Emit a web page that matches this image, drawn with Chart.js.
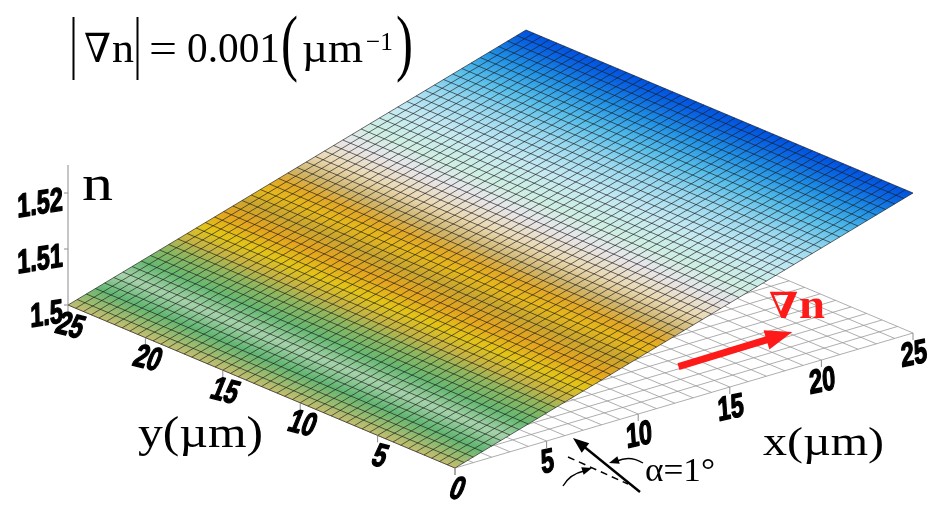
<!DOCTYPE html>
<html>
<head>
<meta charset="utf-8">
<script src="https://cdn.jsdelivr.net/npm/chart.js@4.4.0/dist/chart.umd.min.js"></script>
<style>
  html, body { margin: 0; padding: 0; background: #fff; }
  #wrap { position: relative; width: 932px; height: 510px; }
</style>
</head>
<body>
<div id="wrap"><canvas id="surf"></canvas></div>
<script>
// axis ticks
const xTicks = [0, 5, 10, 15, 20, 25];
const yTicks = [0, 5, 10, 15, 20, 25];
const nTicks = [1.5, 1.51, 1.52];

// refractive index read along x (surface is flat along y)
const profileX = [0, 5, 10, 15, 20, 25];
const profileN = [1.500, 1.505, 1.510, 1.515, 1.520, 1.525];

// gradient arrow drawn on the base plane (x, y in um)
const arrowFrom = [14.9, 3.2];
const arrowTo = [21.2, 3.3];

// shading of the surface, keyed by x position
const colorStops = [
  [0, '#c4bd6e'], [0.8, '#93bb70'], [1.6, '#62b672'], [2.8, '#a6d2aa'],
  [4.0, '#66b872'], [5.2, '#8cb760'], [6.2, '#c6b444'], [7.2, '#e3c416'],
  [8.4, '#e4a41e'], [9.6, '#caa630'], [10.6, '#e6b81a'], [11.4, '#e2a826'],
  [12.4, '#cfb56e'], [13.6, '#ead9b4'], [15.0, '#e8e6ea'], [16.2, '#cfefe4'],
  [18.0, '#c4e9f3'], [19.8, '#98d8ef'], [21.4, '#56bde9'], [23.0, '#1f8fe4'],
  [24.2, '#0a66e2'], [25, '#0052e0']
];

// oblique view: screen units per um of x, y and per unit of n
const view = { ox: 455, oy: 468, exx: 18.32, exy: -5.4, eyx: -15.48, eyy: -6.52, ez: -5600, nBase: 1.5 };
const meshStep = 0.5;
const baseStep = 1;
const xMax = profileX[profileX.length - 1];
const yMax = yTicks[yTicks.length - 1];

function proj(x, y, n) {
  return {
    x: view.ox + x * view.exx + y * view.eyx,
    y: view.oy + x * view.exy + y * view.eyy + (n - view.nBase) * view.ez
  };
}

function nAt(x) {
  for (let i = 0; i < profileX.length - 1; i++) {
    if (x <= profileX[i + 1]) {
      const t = (x - profileX[i]) / (profileX[i + 1] - profileX[i]);
      return profileN[i] + t * (profileN[i + 1] - profileN[i]);
    }
  }
  return profileN[profileN.length - 1];
}

function lineSet(points, color, width, order) {
  return {
    data: points, borderColor: color, borderWidth: width, pointRadius: 0,
    fill: false, tension: 0, order: order
  };
}

const datasets = [];

// base plane grid at n = 1.5
for (let x = 0; x <= xMax + 1e-9; x += baseStep) {
  datasets.push(lineSet([proj(x, 0, view.nBase), proj(x, yMax, view.nBase)], '#999999', 0.8, 10));
}
for (let y = 0; y <= yMax + 1e-9; y += baseStep) {
  datasets.push(lineSet([proj(0, y, view.nBase), proj(xMax, y, view.nBase)], '#999999', 0.8, 10));
}

// surface outline, filled with the shading
const outline = [];
profileX.forEach((x, i) => outline.push(proj(x, 0, profileN[i])));
for (let i = profileX.length - 1; i >= 0; i--) outline.push(proj(profileX[i], yMax, profileN[i]));
outline.push(proj(profileX[0], 0, profileN[0]));

datasets.push({
  data: outline, borderWidth: 0, borderColor: 'rgba(0,0,0,0)', pointRadius: 0, tension: 0,
  fill: 'shape', order: 5,
  backgroundColor: (c) => {
    const chart = c.chart;
    const sx = chart.scales.x, sy = chart.scales.y;
    if (!sx || !sy || !chart.chartArea) return colorStops[0][1];
    const px = p => ({ x: sx.getPixelForValue(p.x), y: sy.getPixelForValue(p.y) });
    const A = px(proj(0, 0, nAt(0)));
    const D = px(proj(0, yMax, nAt(0)));
    const L = Math.hypot(D.x - A.x, D.y - A.y);
    const nx = -(D.y - A.y) / L, ny = (D.x - A.x) / L;
    const along = q => (q.x - A.x) * nx + (q.y - A.y) * ny;
    const tB = along(px(proj(xMax, 0, nAt(xMax))));
    const g = chart.ctx.createLinearGradient(A.x, A.y, A.x + nx * tB, A.y + ny * tB);
    colorStops.forEach(([xs, col]) => {
      const f = along(px(proj(xs, 0, nAt(xs)))) / tB;
      g.addColorStop(Math.min(1, Math.max(0, f)), col);
    });
    return g;
  }
});

// surface mesh
const meshColor = 'rgba(25,25,25,0.8)';
for (let x = 0; x <= xMax + 1e-9; x += meshStep) {
  datasets.push(lineSet([proj(x, 0, nAt(x)), proj(x, yMax, nAt(x))], meshColor, 0.8, 2));
}
for (let y = 0; y <= yMax + 1e-9; y += meshStep) {
  const pts = profileX.map((x, i) => proj(x, y, profileN[i]));
  datasets.push(lineSet(pts, meshColor, 0.8, 2));
}

// vertical n axis at the back-left corner
datasets.push(lineSet([proj(0, yMax, view.nBase), proj(0, yMax, 1.525)], '#8c8c8c', 1, 1));

// text squeezed horizontally so it fits a given width
function fitText(ctx, str, x, base, width, font, color) {
  ctx.save();
  ctx.font = font;
  ctx.fillStyle = color;
  ctx.textBaseline = 'alphabetic';
  ctx.textAlign = 'left';
  const w = ctx.measureText(str).width;
  const k = width ? width / w : 1;
  ctx.translate(x, base);
  ctx.scale(k, 1);
  ctx.fillText(str, 0, 0);
  ctx.restore();
}

// heavy narrow slanted tick label
function tickText(ctx, str, x, y, rot, align) {
  ctx.save();
  ctx.translate(x, y);
  ctx.rotate(rot * Math.PI / 180);
  ctx.transform(0.72, 0, -0.14, 1, 0, 0);
  ctx.font = 'bold 33px "Liberation Sans", Arial, sans-serif';
  ctx.fillStyle = '#000';
  ctx.strokeStyle = '#000';
  ctx.lineWidth = 1.4;
  ctx.lineJoin = 'round';
  ctx.textAlign = align || 'center';
  ctx.textBaseline = 'middle';
  ctx.strokeText(str, 0, 0);
  ctx.fillText(str, 0, 0);
  ctx.restore();
}

function arrowHead(ctx, tip, from, len, half, color) {
  const a = Math.atan2(tip.y - from.y, tip.x - from.x);
  ctx.save();
  ctx.fillStyle = color;
  ctx.beginPath();
  ctx.moveTo(tip.x, tip.y);
  ctx.lineTo(tip.x - len * Math.cos(a) + half * Math.sin(a), tip.y - len * Math.sin(a) - half * Math.cos(a));
  ctx.lineTo(tip.x - len * Math.cos(a) - half * Math.sin(a), tip.y - len * Math.sin(a) + half * Math.cos(a));
  ctx.closePath();
  ctx.fill();
  ctx.restore();
}

const decor = {
  id: 'decor',
  afterDatasetsDraw(chart) {
    const ctx = chart.ctx;
    const sx = chart.scales.x, sy = chart.scales.y;
    const px = p => ({ x: sx.getPixelForValue(p.x), y: sy.getPixelForValue(p.y) });

    // tick marks
    ctx.save();
    ctx.strokeStyle = '#8c8c8c';
    ctx.lineWidth = 1;
    yTicks.forEach(v => {
      const p = px(proj(0, v, view.nBase));
      ctx.beginPath(); ctx.moveTo(p.x, p.y); ctx.lineTo(p.x, p.y + 7); ctx.stroke();
    });
    xTicks.forEach(v => {
      const p = px(proj(v, 0, view.nBase));
      ctx.beginPath(); ctx.moveTo(p.x, p.y); ctx.lineTo(p.x, p.y + 7); ctx.stroke();
    });
    nTicks.forEach(v => {
      const p = px(proj(0, yMax, v));
      ctx.beginPath(); ctx.moveTo(p.x, p.y); ctx.lineTo(p.x - 4, p.y); ctx.stroke();
    });
    ctx.restore();

    // tick labels
    yTicks.forEach(v => {
      const p = px(proj(0, v, view.nBase));
      tickText(ctx, String(v), p.x + 2, p.y + 22, 14);
    });
    xTicks.forEach(v => {
      if (v === 0) return;
      const p = px(proj(v, 0, view.nBase));
      tickText(ctx, String(v), p.x + 1, p.y + 22, -12);
    });
    nTicks.forEach(v => {
      const p = px(proj(0, yMax, v));
      tickText(ctx, String(v), p.x - 5, p.y + 8, -9, 'right');
    });

    // axis titles
    const serif = '"Liberation Serif", "DejaVu Serif", serif';
    fitText(ctx, 'n', 82, 200, 31, '50px ' + serif, '#000');
    fitText(ctx, 'y(\u00b5m)', 138, 447, 125, '44px ' + serif, '#000');
    fitText(ctx, 'x(\u00b5m)', 763, 455, 121, '41px ' + serif, '#000');

    // headline |grad n| = 0.001 (um^-1)
    ctx.save();
    ctx.strokeStyle = '#000';
    ctx.lineWidth = 2;
    [73.5, 137.5].forEach(bx => {
      ctx.beginPath(); ctx.moveTo(bx, 17); ctx.lineTo(bx, 80); ctx.stroke();
    });
    ctx.restore();
    fitText(ctx, '\u2207', 84, 62, 27, '40px "DejaVu Serif", serif', '#000');
    fitText(ctx, 'n', 112, 62, 22, '43px ' + serif, '#000');
    fitText(ctx, '=', 149, 62, 28, '43px ' + serif, '#000');
    fitText(ctx, '0.001', 187, 62, 93, '43px ' + serif, '#000');
    fitText(ctx, '(', 281, 67, 17, '74px ' + serif, '#000');
    fitText(ctx, '\u00b5m', 302, 62, 61, '43px ' + serif, '#000');
    fitText(ctx, '\u22121', 366, 50, 27, '26px ' + serif, '#000');
    fitText(ctx, ')', 396, 67, 17, '74px ' + serif, '#000');

    // gradient arrow
    const a0 = px(proj(arrowFrom[0], arrowFrom[1], view.nBase));
    const a1 = px(proj(arrowTo[0], arrowTo[1], view.nBase));
    const ang = Math.atan2(a1.y - a0.y, a1.x - a0.x);
    ctx.save();
    ctx.strokeStyle = '#ff1a1a';
    ctx.lineWidth = 7;
    ctx.beginPath();
    ctx.moveTo(a0.x, a0.y);
    ctx.lineTo(a1.x - 22 * Math.cos(ang), a1.y - 22 * Math.sin(ang));
    ctx.stroke();
    ctx.restore();
    arrowHead(ctx, a1, a0, 27, 10, '#ff1a1a');
    fitText(ctx, '\u2207', 769, 318, 29, 'bold 36px "DejaVu Serif", serif', '#ff1a1a');
    fitText(ctx, 'n', 799, 318, 26, 'bold 40px ' + serif, '#ff1a1a');

    // tilt annotation
    ctx.save();
    ctx.strokeStyle = '#000';
    ctx.lineWidth = 2.4;
    ctx.beginPath(); ctx.moveTo(640, 492); ctx.lineTo(582, 445); ctx.stroke();
    arrowHead(ctx, { x: 573, y: 438 }, { x: 640, y: 492 }, 16, 6, '#000');
    ctx.lineWidth = 1.5;
    ctx.setLineDash([7, 5]);
    ctx.beginPath(); ctx.moveTo(568, 457); ctx.lineTo(628, 484); ctx.stroke();
    ctx.setLineDash([]);
    ctx.lineWidth = 1.4;
    ctx.beginPath(); ctx.moveTo(643, 463); ctx.quadraticCurveTo(630, 455, 617, 461); ctx.stroke();
    arrowHead(ctx, { x: 609, y: 463 }, { x: 625, y: 458 }, 10, 4, '#000');
    ctx.beginPath(); ctx.moveTo(563, 486); ctx.quadraticCurveTo(570, 474, 584, 471); ctx.stroke();
    arrowHead(ctx, { x: 592, y: 468 }, { x: 576, y: 473 }, 10, 4, '#000');
    ctx.restore();
    fitText(ctx, '\u03b1=1\u00b0', 645, 481, 70, '33px ' + serif, '#000');
  }
};

new Chart(document.getElementById('surf'), {
  type: 'line',
  data: { datasets: datasets },
  options: {
    responsive: true,
    maintainAspectRatio: false,
    animation: false,
    layout: { padding: 0 },
    plugins: { legend: { display: false }, tooltip: { enabled: false } },
    scales: {
      x: { type: 'linear', min: 0, max: 932, display: false },
      y: { type: 'linear', min: 0, max: 510, reverse: true, display: false }
    }
  },
  plugins: [decor]
});
</script>
</body>
</html>
